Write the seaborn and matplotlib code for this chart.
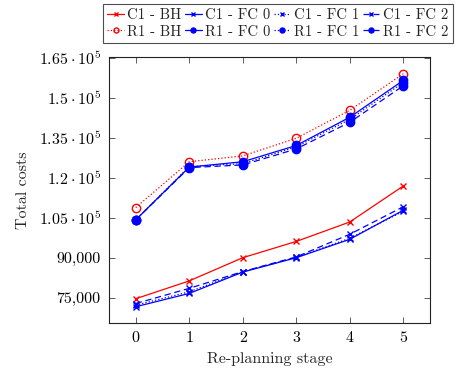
import matplotlib
matplotlib.use("Agg")
import matplotlib.pyplot as plt
import seaborn as sns
import pandas as pd

# etapas de re-planificacion
etapas = [0, 1, 2, 3, 4, 5]

# costos totales
c1_bh = [74700, 81400, 90100, 96200, 103500, 117000]
c1_fc0 = [71700, 76700, 84700, 90100, 97000, 107900]
c1_fc1 = [72300, 77300, 84900, 90200, 97400, 107500]
c1_fc2 = [72900, 78600, 84900, 90400, 98900, 109200]
r1_bh = [108900, 126100, 128300, 134900, 145400, 159100]
r1_fc0 = [104300, 124100, 126100, 132200, 142800, 156600]
r1_fc1 = [104300, 124300, 125400, 131700, 142000, 155800]
r1_fc2 = [104300, 123900, 124900, 130900, 140900, 154600]

ytick_vals = [75000, 90000, 105000, 120000, 135000, 150000, 165000]
ytick_lbls = ["75,000", "90,000", r"$1.05\cdot10^{5}$", r"$1.2\cdot10^{5}$",
              r"$1.35\cdot10^{5}$", r"$1.5\cdot10^{5}$", r"$1.65\cdot10^{5}$"]

sns.set_style("ticks")
plt.rcParams['font.family'] = ['cmr10', 'DejaVu Serif']
plt.rcParams['mathtext.fontset'] = 'cm'
plt.rcParams['axes.formatter.use_mathtext'] = True

fig = plt.figure(figsize=(4.57, 3.71), dpi=100)
ax = fig.add_axes([109/457, 1 - 323/371, 321/457, 266/371])

rojo = "#ff0000"
azul = "#0000ff"

series = [
    ("C1 - BH", c1_bh, rojo, "-", "x", "full"),
    ("C1 - FC 0", c1_fc0, azul, "-", "x", "full"),
    ("C1 - FC 1", c1_fc1, azul, ":", "x", "full"),
    ("C1 - FC 2", c1_fc2, azul, (0, (5, 3)), "x", "full"),
    ("R1 - BH", r1_bh, rojo, ":", "o", "none"),
    ("R1 - FC 0", r1_fc0, azul, "-", "o", "full"),
    ("R1 - FC 1", r1_fc1, azul, ":", "o", "full"),
    ("R1 - FC 2", r1_fc2, azul, (0, (5, 3)), "o", "full"),
]

for nombre, valores, color, estilo, marca, relleno in series:
    df = pd.DataFrame({"etapa": etapas, "costo": valores})
    ms = 6 if marca == "o" else 4.5
    sns.lineplot(data=df, x="etapa", y="costo", ax=ax, color=color,
                 linestyle=estilo, linewidth=0.9, marker=marca, markersize=ms,
                 markerfacecolor=(color if relleno == "full" else "none"),
                 markeredgecolor=color, markeredgewidth=1.0, label=nombre)

ax.set_xlim(-0.5, 5.5)
ax.set_ylim(65600, 165400)
ax.set_xticks(etapas)
ax.set_xticklabels([str(e) for e in etapas])
ax.set_yticks(ytick_vals)
ax.set_yticklabels(ytick_lbls)
ax.tick_params(direction="in", top=True, right=True, length=4, width=0.6,
               labelsize=11.5, colors="#444444", labelcolor="black", pad=6)
for s in ax.spines.values():
    s.set_linewidth(0.8)
    s.set_color("#222222")
ax.set_xlabel("Re-planning stage", fontsize=11.5, labelpad=5)
ax.set_ylabel("Total costs", fontsize=11.5, labelpad=6)

handles, labels = ax.get_legend_handles_labels()
orden = [0, 4, 1, 5, 2, 6, 3, 7]
ax.legend([handles[i] for i in orden], [labels[i] for i in orden], ncol=4,
          loc="lower left", bbox_to_anchor=(103/457, 1 - 43/371), bbox_transform=fig.transFigure,
          fontsize=10.6, frameon=True, fancybox=False, edgecolor="#222222",
          handlelength=1.1, handletextpad=0.25, columnspacing=0.25, borderpad=0.3,
          labelspacing=0.2, borderaxespad=0, markerscale=0.6)
ax.get_legend().get_frame().set_linewidth(0.8)

plt.savefig("out.png", dpi=100)
